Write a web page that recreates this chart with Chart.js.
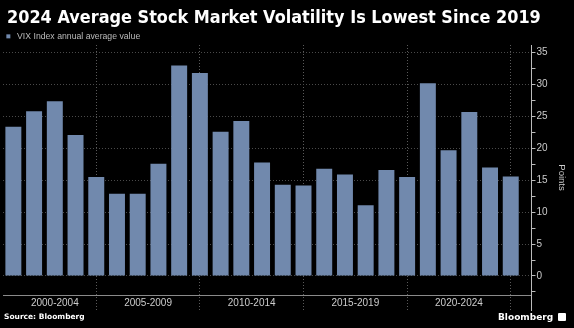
<!DOCTYPE html>
<html>
<head>
<meta charset="utf-8">
<script src="https://cdn.jsdelivr.net/npm/chart.js@4/dist/chart.umd.min.js"></script>
<style>
  body { margin: 0; background: #000; width: 574px; height: 328px; overflow: hidden; position: relative; }
  #chart { position: absolute; left: 0; top: 0; }
  #title { position: absolute; left: 7px; top: 7px; color: #fff; font: bold 17.5px/20px "DejaVu Sans", sans-serif;
           white-space: nowrap; transform: scaleX(0.92); transform-origin: 0 0; }
  #source { position: absolute; left: 4px; top: 312px; color: #fff; font: bold 7.5px/9px "DejaVu Sans", sans-serif; }
  #brand { position: absolute; left: 498px; top: 312px; color: #fff; font: bold 9px/10px "DejaVu Sans", sans-serif; }
  #brand span { display: inline-block; width: 8px; height: 8px; background: #fff; border-radius: 1px;
                margin-left: 5px; vertical-align: -1px; }
</style>
</head>
<body>
<canvas id="chart" width="574" height="328"></canvas>
<div id="title">2024 Average Stock Market Volatility Is Lowest Since 2019</div>
<div id="source">Source: Bloomberg</div>
<div id="brand">Bloomberg<span></span></div>
<script>
// yearly data
const years = [2000, 2001, 2002, 2003, 2004, 2005, 2006, 2007, 2008, 2009, 2010, 2011, 2012,
               2013, 2014, 2015, 2016, 2017, 2018, 2019, 2020, 2021, 2022, 2023, 2024];
const vixAvg = [23.4, 25.8, 27.4, 22.1, 15.5, 12.9, 12.9, 17.6, 33.0, 31.8, 22.6, 24.3, 17.8,
                14.3, 14.2, 16.8, 15.9, 11.1, 16.6, 15.5, 30.2, 19.7, 25.7, 17.0, 15.6];

// x axis groups
const groupLabels = ["2000-2004", "2005-2009", "2010-2014", "2015-2019", "2020-2024"];
const groupLabelAt = [2002, 2006.5, 2011.5, 2016.5, 2021.5];
const groupEdges = [2004, 2009, 2014, 2019, 2024];

// y axis ticks (the baseline sits a little below zero, labels drawn under it)
const yTicks = [-2.5, 0, 2.5, 5, 7.5, 10, 12.5, 15, 17.5, 20, 22.5, 25, 27.5, 30, 32.5, 35];
const baseLine = -3.13;

const barColor = "#7189ad";
const gridColor = "#4a4a4a";

Chart.defaults.font.family = "Liberation Sans";

new Chart(document.getElementById("chart"), {
  type: "bar",
  data: {
    labels: years,
    datasets: [{
      label: "VIX Index annual average value",
      data: vixAvg,
      backgroundColor: barColor,
      borderWidth: 0,
      barPercentage: 0.77,
      categoryPercentage: 1
    }]
  },
  options: {
    responsive: false,
    animation: false,
    layout: { padding: { left: 3, right: 6, top: 31, bottom: 16 } },
    plugins: {
      tooltip: { enabled: false },
      legend: {
        align: "start",
        maxHeight: 14,
        labels: {
          color: "#bbb",
          font: { size: 8.7 },
          usePointStyle: true,
          pointStyle: "rect",
          boxWidth: 8.7,
          boxHeight: 4,
          padding: 1
        }
      }
    },
    scales: {
      x: {
        type: "linear",
        min: 1999.5,
        max: 2025,
        offset: false,
        afterBuildTicks: (scale) => {
          scale.ticks = groupLabelAt.concat(groupEdges).sort((a, b) => a - b).map(v => ({ value: v }));
        },
        grid: {
          offset: false,
          drawTicks: false,
          color: (ctx) => groupEdges.includes(ctx.tick && ctx.tick.value) ? "#5a5a5a" : "transparent"
        },
        border: { display: false, dash: [1, 2] },
        ticks: {
          color: "#ccc",
          font: { size: 10 },
          mirror: true,
          padding: 1,
          maxRotation: 0,
          autoSkip: false,
          callback: (v) => {
            const i = groupLabelAt.indexOf(v);
            return i >= 0 ? groupLabels[i] : "";
          }
        }
      },
      y: {
        position: "right",
        min: -5.33,
        max: 36.2,
        afterBuildTicks: (scale) => {
          scale.ticks = [baseLine].concat(yTicks).map(v => ({ value: v }));
        },
        grid: {
          color: (ctx) => {
            const v = ctx.tick && ctx.tick.value;
            if (v === baseLine) return "#8a8a8a";
            return (v % 5 === 0 && v >= 0) ? gridColor : "transparent";
          },
          tickColor: (ctx) => (ctx.tick && ctx.tick.value === baseLine) ? "transparent" : "#bbb",
          tickLength: 4
        },
        border: {
          color: "#bbb",
          dash: (ctx) => (ctx.tick && ctx.tick.value === baseLine) ? [] : [1, 2]
        },
        ticks: {
          color: "#ccc",
          font: { size: 10 },
          padding: 1,
          autoSkip: false,
          callback: (v) => (v % 5 === 0 ? String(v) : "")
        },
        title: {
          display: true,
          text: "Points",
          color: "#ccc",
          font: { size: 9.5 },
          padding: { top: 1, bottom: 7 }
        }
      }
    }
  }
});
</script>
</body>
</html>
